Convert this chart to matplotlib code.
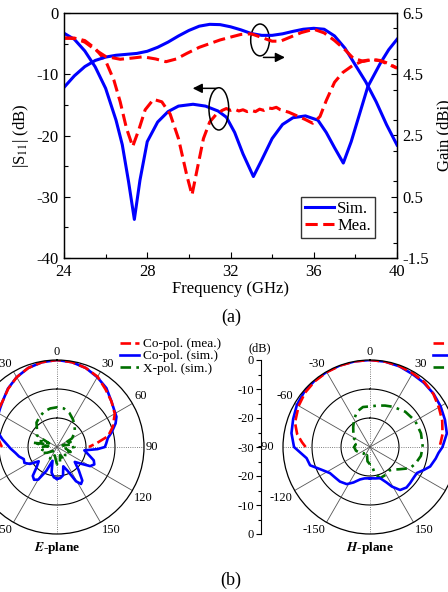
import numpy as np
import matplotlib
matplotlib.use("Agg")
import matplotlib.pyplot as plt
from matplotlib.patches import Ellipse
from matplotlib.lines import Line2D
from matplotlib.ticker import MultipleLocator

plt.rcParams['font.family'] = ['Liberation Serif', 'DejaVu Serif']
plt.rcParams['mathtext.fontset'] = 'stix'
plt.rcParams['axes.unicode_minus'] = False

# ---------------- (a) S11 y ganancia ----------------
f_s11_sim = [24.0, 24.5, 25.0, 25.5, 26.0, 26.5, 26.8, 27.1, 27.38, 27.65, 28.0, 28.5,
             29.0, 29.5, 30.2, 30.8, 31.4, 31.8, 32.2, 32.6, 33.1, 33.5, 34.0, 34.5,
             35.0, 35.6, 36.2, 36.6, 37.0, 37.42, 37.8, 38.2, 38.6, 39.2, 39.6, 40.0]
s11_sim = [-3.3, -4.3, -6.2, -8.8, -12.3, -17.5, -21.5, -27.5, -33.7, -27.3, -21.0, -17.8,
           -16.1, -15.2, -14.9, -15.2, -16.0, -17.0, -19.5, -23.0, -26.7, -24.0, -20.5, -18.2,
           -17.1, -16.8, -17.5, -19.5, -22.0, -24.5, -21.0, -16.5, -12.0, -8.2, -6.0, -4.3]

f_s11_mea = [24.0, 24.5, 25.0, 25.5, 26.0, 26.4, 26.7, 27.0, 27.3, 27.6, 27.9, 28.3,
             28.7, 29.1, 29.5, 29.9, 30.15, 30.4, 30.7, 31.0, 31.3, 31.6, 31.8, 32.0,
             32.2, 32.4, 32.6, 32.8, 33.0, 33.2, 33.4, 33.6, 33.8, 34.0, 34.2, 34.4,
             34.8, 35.2, 35.6, 35.95, 36.3, 36.6, 37.0, 37.4, 37.9, 38.4, 38.8, 39.2,
             39.6, 40.0]
s11_mea = [-4.1, -4.1, -4.5, -5.8, -7.8, -11.0, -14.5, -18.8, -21.8, -19.0, -15.8, -14.1,
           -14.5, -16.5, -20.5, -26.5, -29.7, -25.5, -20.5, -17.8, -16.6, -15.9, -15.6, -15.9,
           -15.7, -16.0, -15.8, -16.1, -15.9, -16.1, -15.7, -15.9, -15.5, -15.6, -15.4, -15.8,
           -16.2, -16.8, -17.4, -18.0, -16.9, -14.3, -11.3, -9.7, -8.5, -7.8, -7.6, -7.8,
           -8.4, -9.0]

f_gain_sim = [24.0, 24.5, 25.0, 25.5, 26.0, 26.5, 27.0, 27.5, 28.0, 28.5, 29.0, 29.5,
              30.0, 30.5, 31.0, 31.5, 32.0, 32.5, 33.0, 33.5, 34.0, 34.5, 35.0, 35.5,
              36.0, 36.5, 37.0, 37.5, 38.0, 38.5, 39.0, 39.5, 40.0]
gain_sim = [4.07, 4.45, 4.75, 4.95, 5.06, 5.12, 5.15, 5.18, 5.25, 5.38, 5.55, 5.75,
            5.93, 6.07, 6.13, 6.12, 6.05, 5.95, 5.83, 5.77, 5.77, 5.82, 5.9, 5.97,
            6.0, 5.97, 5.75, 5.35, 4.8, 4.25, 3.6, 2.85, 2.19]

f_gain_mea = [24.0, 24.5, 25.0, 25.5, 26.0, 26.7, 27.3, 27.8, 28.4, 28.9, 29.4, 29.9,
              30.5, 31.0, 31.5, 32.1, 32.5, 33.0, 33.5, 34.0, 34.4, 34.9, 35.4, 36.0,
              36.5, 37.0, 37.5, 37.9, 38.4, 38.8, 39.2, 39.6, 40.0]
gain_mea = [5.68, 5.67, 5.55, 5.3, 5.08, 4.99, 5.03, 5.07, 5.0, 4.91, 5.0, 5.18,
            5.38, 5.5, 5.62, 5.73, 5.8, 5.82, 5.7, 5.58, 5.58, 5.72, 5.86, 5.97,
            5.85, 5.6, 5.3, 5.02, 4.92, 4.98, 4.95, 4.85, 4.7]

x_ticks = [24, 28, 32, 36, 40]
s11_ticks = [0, -10, -20, -30, -40]
gain_ticks = [6.5, 4.5, 2.5, 0.5, -1.5]
gain_tick_labels = ['6.5', '4.5', '2.5', '0.5', '-1.5']

# ---------------- (b) diagramas ----------------
e_mea_ang = [-90, -80, -70, -60, -50, -40, -30, -20, -10, 0, 10, 20, 30, 40, 50, 60, 70, 78, 84, 90]
e_mea_db = [-11, -9, -7, -6, -5.5, -3.8, -2.2, -1.0, -0.3, 0, -0.3, -1.0, -2.0, -4.0, -5.5,
            -7, -9.5, -12, -16, -19]

e_sim_ang = [-180, -174, -168, -162, -156, -150, -145, -140, -135, -128, -122, -116, -110,
             -104, -98, -92, -88, -82, -76, -70, -63, -56, -50, -40, -30, -20, -10, 0,
             10, 20, 30, 40, 50, 57, 63, 68, 75, 80, 86, 90, 93, 97, 103, 110, 115, 120,
             125, 130, 137, 143, 147, 151, 156, 162, 168, 174, 180]
e_sim_db = [-19, -19.5, -21, -25, -21, -17, -16.2, -17, -20, -22, -19, -17.5, -17.8,
            -16.5, -15.5, -14, -13, -11, -9, -7.8, -7.0, -6.3, -5.5, -3.7, -2.2, -1.0, -0.3, 0,
            -0.3, -1.0, -2.2, -3.5, -5.5, -6.5, -7.0, -8.2, -10.5, -12.2, -13, -13.5, -16, -20.5,
            -19, -16.5, -15.8, -16.8, -20, -22, -19, -15.5, -14.8, -16.5, -21, -23, -20, -19.2, -19]

e_x_ang = [-180, -165, -150, -135, -120, -110, -100, -90, -85, -80, -75, -70, -65, -60, -50,
           -40, -30, -20, -10, 0, 10, 20, 30, 40, 50, 60, 65, 70, 75, 80, 90, 100, 110, 120,
           135, 150, 160, 170, 177, 180]
e_x_db = [-24, -27, -25, -28, -26, -24, -25, -24, -27, -21.5, -26, -24, -27, -22, -21,
          -19, -18, -17, -16.5, -16.3, -16.5, -17.5, -19, -20.5, -22, -24, -27, -25, -28, -25,
          -24, -27, -25, -27, -26, -25, -27, -24, -23.7, -24]

h_mea_ang = [-90, -86, -80, -72, -60, -50, -40, -30, -20, -10, 0, 10, 20, 30, 40, 50, 60, 70, 80, 90]
h_mea_db = [-7.8, -6.5, -4.5, -2.8, -1.6, -0.8, -0.4, -0.2, -0.1, 0, 0, -0.1, -0.3, -0.6,
            -0.8, -1.5, -2.6, -3.5, -4.6, -6.0]

h_sim_ang = [-180, -170, -163, -155, -148, -139, -131, -123, -115, -107, -100, -90, -80, -70,
             -60, -50, -40, -30, -20, -10, 0, 10, 20, 30, 40, 50, 60, 70, 80, 90, 95, 100,
             108, 113, 119, 125, 132, 138, 145, 151, 155, 162, 170, 180]
h_sim_db = [-19.2, -19, -18.3, -16.5, -14.9, -14.2, -14, -13.5, -11.5, -8.4, -7.8, -3.8, -2.5,
            -1.8, -0.9, -0.4, -0.2, -0.1, 0, 0, 0, -0.1, -0.4, -0.9, -1.1, -1.4, -1.9, -2.5,
            -3.1, -5.0, -6.3, -7.0, -8.2, -9.8, -11.5, -11.6, -11.4, -11.2, -11.9, -14.4, -16.5,
            -18.7, -19.0, -19.2]

h_x_ang = [-180, -170, -160, -150, -135, -120, -105, -90, -80, -70, -60, -50, -40, -30, -20,
           -10, 0, 10, 20, 30, 45, 60, 75, 90, 100, 110, 118, 128, 135, 140, 150, 162, 170,
           175, 180]
h_x_db = [-24, -25, -27, -26, -27, -26, -25, -24.5, -25, -23.5, -24, -22.5, -21, -19, -17,
          -16, -16, -15.5, -14.8, -14, -12.8, -12, -11.8, -11.8, -12.2, -13.3, -14.4, -17.5,
          -19, -19.5, -19, -18.7, -20.8, -24, -24]

ang_labels = [0, 30, 60, 90, 120, 150, -30, -60, -90, -120, -150]
rad_pos = [30, 20, 10, 0, -10, -20, -30]
rad_labels = ['0', '-10', '-20', '-30', '-20', '-10', '0']

W, H = 448, 592
fig = plt.figure(figsize=(W / 100, H / 100), dpi=100)

# ---------- panel (a) ----------
ax = fig.add_axes([64 / W, 1 - 258 / H, 333 / W, 245 / H])
ax2 = ax.twinx()
ax.plot(f_s11_sim, s11_sim, color='#0000ff', lw=2.2)
ax.plot(f_s11_mea, s11_mea, color='#ff0000', lw=2.2, dashes=(4, 1.8))
ax2.plot(f_gain_sim, gain_sim, color='#0000ff', lw=2.2)
ax2.plot(f_gain_mea, gain_mea, color='#ff0000', lw=2.2, dashes=(4, 1.8))

ax.set_xlim(24, 40)
ax.set_ylim(-40, 0)
ax2.set_ylim(-1.5, 6.5)
ax.set_xticks(x_ticks)
ax.xaxis.set_minor_locator(MultipleLocator(2))
ax.set_yticks(s11_ticks)
ax.yaxis.set_minor_locator(MultipleLocator(5))
ax2.set_yticks(gain_ticks, gain_tick_labels)
ax2.yaxis.set_minor_locator(MultipleLocator(1))
for a in (ax, ax2):
    a.tick_params(which='both', direction='in', labelsize=12, width=0.8, pad=4)
    a.tick_params(which='major', length=4)
    a.tick_params(which='minor', length=3)
    for s in a.spines.values():
        s.set_linewidth(0.9)
ax.set_xlabel('Frequency (GHz)', fontsize=12, labelpad=1)
ax.set_ylabel('|S$_{11}$| (dB)', fontsize=12, labelpad=4)
ax2.set_ylabel('Gain (dBi)', fontsize=12, labelpad=5)

# elipses y flechas
ax.add_patch(Ellipse((33.42, -4.4), 0.9, 5.2, fill=False, ec='k', lw=1.1, zorder=5))
ax.annotate('', xy=(34.75, -7.25), xytext=(33.45, -7.25),
            arrowprops=dict(arrowstyle='-|>', color='k', lw=1.1, mutation_scale=14))
ax.add_patch(Ellipse((31.44, -15.65), 0.95, 6.9, fill=False, ec='k', lw=1.1, zorder=5))
ax.annotate('', xy=(30.05, -12.3), xytext=(31.46, -12.3),
            arrowprops=dict(arrowstyle='-|>', color='k', lw=1.1, mutation_scale=14))

leg = ax2.legend([Line2D([], [], color='#0000ff', lw=2.2),
                  Line2D([], [], color='#ff0000', lw=2.2, dashes=(4, 1.8))],
                 ['Sim.', 'Mea.'], loc='lower right', bbox_to_anchor=(0.934, 0.082),
                 fontsize=12, frameon=True, fancybox=False, edgecolor='k',
                 handlelength=1.7, handletextpad=0.2, borderpad=0.25, labelspacing=0.05,
                 borderaxespad=0)
leg.get_frame().set_linewidth(1.0)

fig.text(231 / W, 1 - 317 / H, '(a)', fontsize=13, ha='center', va='center')
fig.text(231 / W, 1 - 580 / H, '(b)', fontsize=13, ha='center', va='center')

# ---------- panel (b) ----------
R = 87


def polar_panel(cx, cy, mea_ang, mea_db, sim_ang, sim_db, x_ang, x_db, name):
    pax = fig.add_axes([(cx - R) / W, 1 - (cy + R) / H, 2 * R / W, 2 * R / H],
                       projection='polar')
    pax.set_theta_zero_location('N')
    pax.set_theta_direction(-1)
    pax.set_ylim(-30, 0)
    pax.grid(False)
    pax.set_xticks([])
    pax.set_yticks([])
    pax.spines['polar'].set_linewidth(0.9)
    circ = np.linspace(0, 2 * np.pi, 361)
    for lev in (-20, -10):
        pax.plot(circ, np.full_like(circ, lev), color='k', lw=0.8)
    for a in range(0, 360, 30):
        ls = ':' if a % 90 == 0 else '-'
        pax.plot([np.deg2rad(a)] * 2, [-30, 0], color='#555555', lw=0.6, ls=ls)
    for a in ang_labels:
        t = np.deg2rad(a)
        s, c = np.sin(t), np.cos(t)
        ha = 'left' if s > 0.1 else ('right' if s < -0.1 else 'center')
        va = 'bottom' if c > 0.1 else ('top' if c < -0.1 else 'center')
        rr = 3.0 if a == -90 else 0.7
        pax.text(t, rr, str(a), ha=ha, va=va, fontsize=9, clip_on=False)
    pax.plot(np.deg2rad(x_ang), np.clip(x_db, -30, 0), color='#006f00', lw=1.9,
             dashes=(4, 2, 1, 2))
    pax.plot(np.deg2rad(sim_ang), np.clip(sim_db, -30, 0), color='#0000ff', lw=1.9)
    pax.plot(np.deg2rad(mea_ang), np.clip(mea_db, -30, 0), color='#ff0000', lw=1.9,
             dashes=(4, 1.6))
    fig.text(cx / W, 1 - 548 / H, r'$\boldsymbol{' + name + '}$-plane', fontsize=9.5,
             fontweight='bold', ha='center', va='center')
    handles = [Line2D([], [], color='#ff0000', lw=1.9, dashes=(4, 1.6)),
               Line2D([], [], color='#0000ff', lw=1.9),
               Line2D([], [], color='#006f00', lw=1.9, dashes=(4, 2, 1, 2))]
    fig.legend(handles, ['Co-pol. (mea.)', 'Co-pol. (sim.)', 'X-pol. (sim.)'],
               loc='upper left', bbox_to_anchor=((cx + 63) / W, 1 - 338 / H),
               bbox_transform=fig.transFigure, frameon=False, fontsize=9.5,
               handlelength=1.45, handletextpad=0.3, borderpad=0, labelspacing=0.0,
               borderaxespad=0)
    return pax


polar_panel(57, 447, e_mea_ang, e_mea_db, e_sim_ang, e_sim_db, e_x_ang, e_x_db, 'E')
polar_panel(370, 447, h_mea_ang, h_mea_db, h_sim_ang, h_sim_db, h_x_ang, h_x_db, 'H')

# eje radial del plano H
rax = fig.add_axes([261 / W, 1 - 534 / H, 0.001, 174 / H])
rax.set_ylim(-30, 30)
rax.set_yticks(rad_pos, rad_labels)
rax.yaxis.set_minor_locator(MultipleLocator(5))
rax.set_xticks([])
for s in ('top', 'right', 'bottom'):
    rax.spines[s].set_visible(False)
rax.spines['left'].set_linewidth(0.8)
rax.patch.set_visible(False)
rax.tick_params(which='both', direction='out', labelsize=9, pad=1.5, width=0.8)
rax.tick_params(which='major', length=3.5)
rax.tick_params(which='minor', length=2)
fig.text(259.5 / W, 1 - 348 / H, '(dB)', fontsize=9, ha='center', va='center')

fig.savefig('out.png', dpi=100)
